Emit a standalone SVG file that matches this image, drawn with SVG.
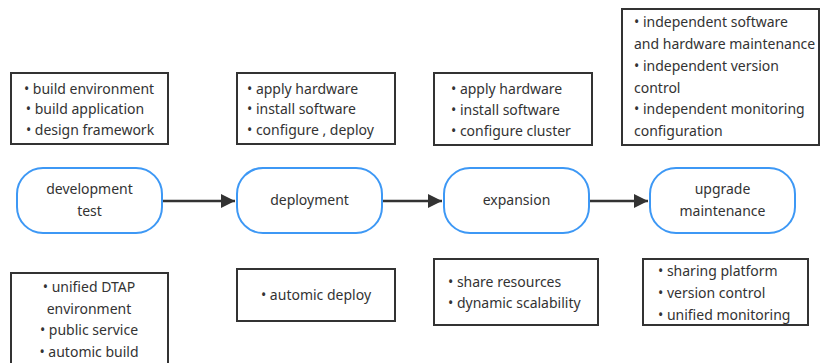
<svg xmlns="http://www.w3.org/2000/svg" width="821" height="363" viewBox="0 0 821 363">
<style>
.box{fill:#fff;stroke:#333;stroke-width:2}
.node{fill:#fff;stroke:#3d98f5;stroke-width:2}
text{font-family:"Noto Sans","Open Sans",sans-serif;font-size:14px;fill:#333}
.c{text-anchor:middle}
.edge{stroke:#333;stroke-width:2.5;fill:none}
</style>
<defs>
<marker id="ah" viewBox="0 0 10 10" refX="10" refY="5" markerWidth="7" markerHeight="5.6" markerUnits="strokeWidth" orient="auto">
<path d="M0,0 L10,5 L0,10 z" fill="#333"/>
</marker>
</defs>
<rect width="821" height="363" fill="#fff"/>
<g id="connectors">
<line class="edge" x1="163" y1="201" x2="235" y2="201" marker-end="url(#ah)"/>
<line class="edge" x1="383" y1="201" x2="442" y2="201" marker-end="url(#ah)"/>
<line class="edge" x1="590" y1="201" x2="648" y2="201" marker-end="url(#ah)"/>
</g>
<g id="node-dev">
<rect class="node" x="17" y="168" width="145" height="65" rx="26"/>
<text class="c" x="89.5" y="194">development</text>
<text class="c" x="89.5" y="216">test</text>
</g>
<g id="node-deploy">
<rect class="node" x="237" y="168" width="145" height="65" rx="26"/>
<text class="c" x="309.5" y="205">deployment</text>
</g>
<g id="node-expansion">
<rect class="node" x="444" y="168" width="145" height="65" rx="26"/>
<text class="c" x="516.5" y="205">expansion</text>
</g>
<g id="node-upgrade">
<rect class="node" x="650" y="168" width="145" height="65" rx="26"/>
<text class="c" x="722.5" y="194">upgrade</text>
<text class="c" x="722.5" y="216">maintenance</text>
</g>
<g id="note-dev-top">
<rect class="box" x="11" y="73" width="157" height="71"/>
<text class="c" x="89" y="94">• build environment</text>
<text class="c" x="85" y="114">• build application</text>
<text class="c" x="90" y="135">• design framework</text>
</g>
<g id="note-deploy-top">
<rect class="box" x="237" y="73" width="158" height="71"/>
<text x="247" y="94">• apply hardware</text>
<text x="247" y="114">• install software</text>
<text x="247" y="135">• configure , deploy</text>
</g>
<g id="note-expansion-top">
<rect class="box" x="434" y="73" width="158" height="72"/>
<text x="451" y="94">• apply hardware</text>
<text x="451" y="115">• install software</text>
<text x="451" y="136">• configure cluster</text>
</g>
<g id="note-upgrade-top">
<rect class="box" x="622" y="9" width="197" height="136"/>
<text x="634" y="27">• independent software</text>
<text x="634" y="49">and hardware maintenance</text>
<text x="634" y="71">• independent version</text>
<text x="634" y="93">control</text>
<text x="634" y="114">• independent monitoring</text>
<text x="634" y="136">configuration</text>
</g>
<g id="note-dev-bottom">
<rect class="box" x="11" y="273" width="157" height="95"/>
<text class="c" x="89" y="292">• unified DTAP</text>
<text class="c" x="89" y="314">environment</text>
<text class="c" x="89" y="335">• public service</text>
<text class="c" x="89" y="357">• automic build</text>
</g>
<g id="note-deploy-bottom">
<rect class="box" x="237" y="269" width="158" height="52"/>
<text class="c" x="316" y="300">• automic deploy</text>
</g>
<g id="note-expansion-bottom">
<rect class="box" x="434" y="259" width="164" height="66"/>
<text x="448" y="287">• share resources</text>
<text x="448" y="308">• dynamic scalability</text>
</g>
<g id="note-upgrade-bottom">
<rect class="box" x="643" y="259" width="165" height="66"/>
<text x="658" y="276">• sharing platform</text>
<text x="658" y="298">• version control</text>
<text x="658" y="320">• unified monitoring</text>
</g>
</svg>
